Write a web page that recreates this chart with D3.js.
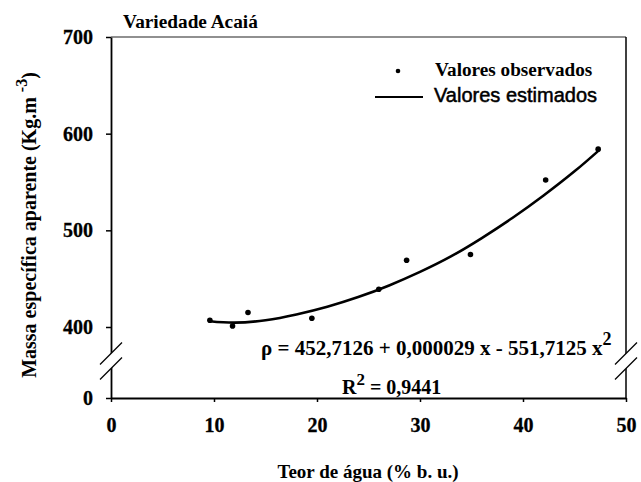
<!DOCTYPE html>
<html>
<head>
<meta charset="utf-8">
<script src="https://cdn.jsdelivr.net/npm/d3@7"></script>
<style>
  body { margin: 0; background: #fff; }
</style>
</head>
<body>
<div id="main"></div>
<script>
// observed values (teor de agua, massa especifica)
var obsX = [9.6, 11.8, 13.3, 19.5, 26.0, 28.7, 34.9, 42.2, 47.3];
var obsY = [407, 401, 415, 409, 439, 469, 475, 552, 584];

// fitted curve
var fitX = [9.6, 12, 15, 18, 21, 24, 27, 30, 33, 36, 39, 42, 45, 47.4];
var fitY = [406, 404.5, 407, 413, 421, 431, 443, 457, 473, 492, 513, 536, 561, 583];

var xTicks = [0, 10, 20, 30, 40, 50];
var yTicks = [0, 400, 500, 600, 700];

var W = 641, H = 482;
var pLeft = 111, pRight = 626, pTop = 37, pBottom = 398;

var svg = d3.select("#main")
  .append("svg")
    .attr("width", W)
    .attr("height", H)
    .attr("font-family", "Liberation Serif")
    .attr("font-weight", "bold");

var x = d3.scaleLinear()
  .domain([0, 50])
  .range([pLeft, pRight]);

// broken axis: 0..400 squeezed into a short segment
var y = d3.scaleLinear()
  .domain([0, 400, 700])
  .range([pBottom, 327, pTop]);

// frame (top + right)
svg.append("line")
  .attr("x1", pLeft).attr("x2", pRight)
  .attr("y1", pTop).attr("y2", pTop)
  .attr("stroke", "#222").attr("stroke-width", 1.2);
svg.append("line")
  .attr("x1", pRight).attr("x2", pRight)
  .attr("y1", pTop).attr("y2", pBottom)
  .attr("stroke", "#000").attr("stroke-width", 1.5);

// x axis
var gx = svg.append("g")
  .attr("transform", "translate(0," + pBottom + ")")
  .call(d3.axisBottom(x).tickValues(xTicks).tickSize(4).tickPadding(16).tickSizeOuter(0));

// y axis
var gy = svg.append("g")
  .attr("transform", "translate(" + pLeft + ",0)")
  .call(d3.axisLeft(y).tickValues(yTicks).tickSize(5).tickPadding(13).tickSizeOuter(0));

[gx, gy].forEach(function(g) {
  g.select(".domain").attr("stroke", "#000").attr("stroke-width", 1.8);
  g.selectAll(".tick line").attr("stroke", "#000").attr("stroke-width", 1.5);
  g.selectAll(".tick text")
    .attr("font-family", "Liberation Serif")
    .attr("font-weight", "bold")
    .attr("font-size", 20)
    .attr("stroke", "#000").attr("stroke-width", 0.3)
    .attr("fill", "#000");
});

// axis break marks
var yb = y(200);
[pLeft, pRight].forEach(function(ax) {
  svg.append("path")
    .attr("d", "M" + (ax - 11) + "," + (yb + 2) + "L" + (ax + 11) + "," + (yb - 20) +
               "L" + (ax + 11) + "," + (yb - 5) + "L" + (ax - 11) + "," + (yb + 17) + "Z")
    .attr("fill", "#fff");
  [0, 15].forEach(function(off) {
    svg.append("line")
      .attr("x1", ax - 11).attr("y1", yb + 2 + off)
      .attr("x2", ax + 11).attr("y2", yb - 20 + off)
      .attr("stroke", "#000").attr("stroke-width", 1.3);
  });
});

// fitted curve
var fit = fitX.map(function(d, i) { return [d, fitY[i]]; });
svg.append("path")
  .datum(fit)
  .attr("fill", "none")
  .attr("stroke", "#000")
  .attr("stroke-width", 2.6)
  .attr("d", d3.line()
    .x(function(d) { return x(d[0]); })
    .y(function(d) { return y(d[1]); })
    .curve(d3.curveNatural));

// observed points
svg.selectAll("circle.obs")
  .data(obsX.map(function(d, i) { return [d, obsY[i]]; }))
  .enter().append("circle")
    .attr("class", "obs")
    .attr("cx", function(d) { return x(d[0]); })
    .attr("cy", function(d) { return y(d[1]); })
    .attr("r", 2.8)
    .attr("fill", "#000");

// legend
svg.append("circle").attr("cx", 398).attr("cy", 71).attr("r", 2.3).attr("fill", "#000");
svg.append("text").attr("x", 435).attr("y", 76).attr("font-size", 19.2).text("Valores observados");
svg.append("line").attr("x1", 375).attr("x2", 423).attr("y1", 97).attr("y2", 97)
  .attr("stroke", "#000").attr("stroke-width", 2.2);
svg.append("text").attr("x", 434).attr("y", 102)
  .attr("font-family", "Liberation Sans").attr("font-weight", "normal")
  .attr("font-size", 20).attr("stroke", "#000").attr("stroke-width", 0.5)
  .text("Valores estimados");

// title
svg.append("text").attr("x", 123).attr("y", 28).attr("font-size", 19.3).text("Variedade Acaiá");

// equation
var eq = svg.append("text").attr("x", 261).attr("y", 355).attr("font-size", 21);
eq.append("tspan").text("ρ = 452,7126 + 0,000029 x - 551,7125 x");
eq.append("tspan").attr("dy", -10).attr("font-size", 18).text("2");

var r2 = svg.append("text").attr("x", 342).attr("y", 394).attr("font-size", 20);
r2.append("tspan").text("R");
r2.append("tspan").attr("dy", -9).attr("font-size", 17).text("2");
r2.append("tspan").attr("dy", 9).text(" = 0,9441");

// axis titles
svg.append("text")
  .attr("x", 368).attr("y", 478)
  .attr("text-anchor", "middle").attr("font-size", 19)
  .text("Teor de água (% b. u.)");

var yl = svg.append("text")
  .attr("transform", "translate(36,225) rotate(-90)")
  .attr("text-anchor", "middle").attr("font-size", 20);
yl.append("tspan").text("Massa específica aparente (Kg.m ");
yl.append("tspan").attr("dy", -9).attr("font-size", 16).text("-3");
yl.append("tspan").attr("dy", 9).text(")");
</script>
</body>
</html>
